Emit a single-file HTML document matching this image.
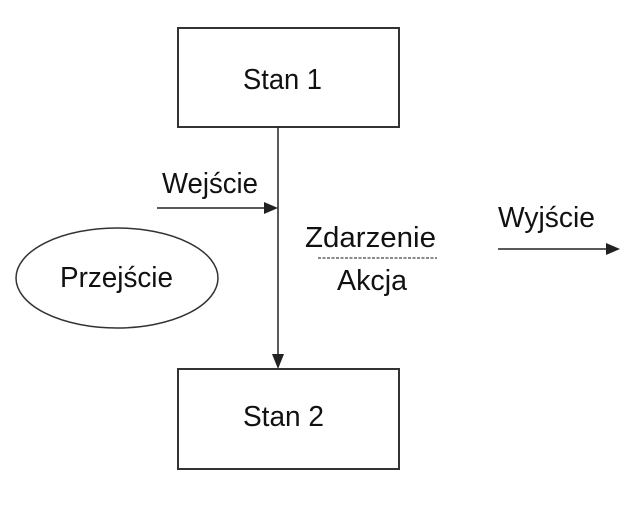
<!DOCTYPE html>
<html><head><meta charset="utf-8"><style>html,body{margin:0;padding:0;background:#fff}</style></head>
<body>
<svg width="642" height="514" viewBox="0 0 642 514" xmlns="http://www.w3.org/2000/svg" font-family="Liberation Sans, sans-serif" font-size="29" fill="#111">
<rect x="178" y="28" width="221" height="99" fill="none" stroke="#333" stroke-width="2"/>
<rect x="178" y="369" width="221" height="100" fill="none" stroke="#333" stroke-width="2"/>
<line x1="278" y1="127" x2="278" y2="356" stroke="#222" stroke-width="1.5"/>
<polygon points="272,354 284,354 278,369" fill="#222"/>
<line x1="157" y1="208" x2="266" y2="208" stroke="#222" stroke-width="1.5"/>
<polygon points="264,202 264,214 278,208" fill="#222"/>
<line x1="498" y1="249" x2="608" y2="249" stroke="#222" stroke-width="1.5"/>
<polygon points="606,243 606,255 620,249" fill="#222"/>
<line x1="318" y1="258" x2="437" y2="258" stroke="#444" stroke-width="1.2" stroke-dasharray="3,1.5"/>
<ellipse cx="117" cy="278" rx="101" ry="50" fill="none" stroke="#333" stroke-width="1.5"/>
<text x="243" y="89" textLength="79" lengthAdjust="spacingAndGlyphs">Stan 1</text>
<text x="243" y="426" textLength="81" lengthAdjust="spacingAndGlyphs">Stan 2</text>
<text x="162" y="193" textLength="96" lengthAdjust="spacingAndGlyphs">Wejście</text>
<text x="60" y="287" textLength="113" lengthAdjust="spacingAndGlyphs">Przejście</text>
<text x="305" y="247" textLength="131" lengthAdjust="spacingAndGlyphs">Zdarzenie</text>
<text x="337" y="290" textLength="70" lengthAdjust="spacingAndGlyphs">Akcja</text>
<text x="498" y="227" textLength="97" lengthAdjust="spacingAndGlyphs">Wyjście</text>
</svg>
</body></html>
